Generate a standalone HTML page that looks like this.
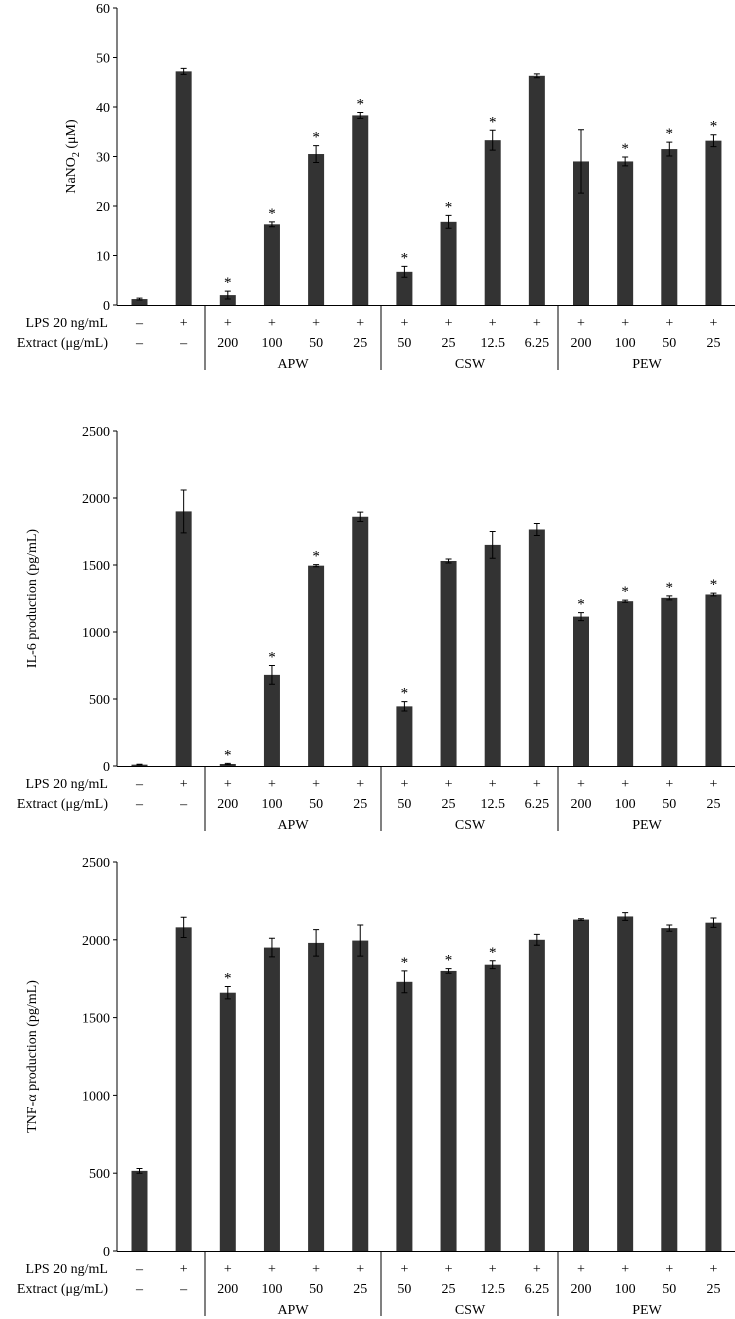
<!DOCTYPE html>
<html><head><meta charset="utf-8"><style>
body{margin:0;background:#fff}
svg{display:block;font-family:"Liberation Serif",serif}
</style></head><body>
<svg id="c" width="735" height="1319"></svg>
<script>
const lpsLabels=["–","+","+","+","+","+","+","+","+","+","+","+","+","+"];
const extractLabels=["–","–","200","100","50","25","50","25","12.5","6.25","200","100","50","25"];
const groups=["APW","CSW","PEW"];
const no2Values=[1.2,47.2,2,16.3,30.5,38.3,6.7,16.8,33.3,46.3,29,29,31.5,33.2];
const no2Errors=[0.2,0.6,0.8,0.5,1.7,0.6,1.1,1.3,2,0.4,6.4,0.9,1.4,1.2];
const no2Stars=[0,0,1,1,1,1,1,1,1,0,0,1,1,1];
const no2Ticks=[0,10,20,30,40,50,60];
const il6Values=[10,1900,15,680,1495,1860,445,1530,1650,1765,1115,1230,1255,1280];
const il6Errors=[3,160,5,70,8,35,35,15,100,45,30,8,15,10];
const il6Stars=[0,0,1,1,1,0,1,0,0,0,1,1,1,1];
const il6Ticks=[0,500,1000,1500,2000,2500];
const tnfValues=[515,2080,1660,1950,1980,1995,1730,1800,1840,2000,2130,2150,2075,2110];
const tnfErrors=[15,65,40,60,85,100,70,15,25,35,5,25,20,30];
const tnfStars=[0,0,1,0,0,0,1,1,1,0,0,0,0,0];
const tnfTicks=[0,500,1000,1500,2000,2500];

const svg=document.getElementById('c');
const NS='http://www.w3.org/2000/svg';
function mk(t,a,txt){const e=document.createElementNS(NS,t);for(const k in a)e.setAttribute(k,a[k]);if(txt!==undefined)e.textContent=txt;svg.appendChild(e);return e;}
const X0=117,bx=i=>139.5+i*44.15,BW=16,seps=[205,381,558];
function panel(name,title,vals,errs,stars,ticks,top,bottom,titleX,sub){
  const max=ticks[ticks.length-1];
  const y=v=>bottom-(v/max)*(bottom-top);
  let e=mk('line',{x1:X0,y1:top,x2:X0,y2:bottom,stroke:'#000','stroke-width':1});
  
  ticks.forEach(t=>{
    e=mk('line',{x1:X0-4,y1:y(t),x2:X0,y2:y(t),stroke:'#000'});
    
    e=mk('text',{x:X0-7,y:y(t)+5,'text-anchor':'end','font-size':14},String(t));
    
  });
  vals.forEach((v,i)=>{
    const cx=bx(i);
    e=mk('rect',{x:cx-BW/2,y:y(v),width:BW,height:bottom-y(v),fill:'#333'});
    
    const y1=y(v+errs[i]),y2=y(v-errs[i]);
    e=mk('path',{d:`M${cx},${y1}V${y2}M${cx-3},${y1}H${cx+3}M${cx-3},${y2}H${cx+3}`,stroke:'#000','stroke-width':1,fill:'none'});
    
    if(stars[i]){e=mk('text',{x:cx,y:y1-4,'text-anchor':'middle','font-size':15},'*');
      }
  });
  e=mk('line',{x1:X0,y1:bottom+0.5,x2:735,y2:bottom+0.5,stroke:'#000'});
  
  seps.forEach(s=>{e=mk('line',{x1:s,y1:bottom,x2:s,y2:bottom+65,stroke:'#000'});
    });
  e=mk('text',{x:108,y:bottom+22,'text-anchor':'end','font-size':14},'LPS 20 ng/mL');
  
  e=mk('text',{x:108,y:bottom+42,'text-anchor':'end','font-size':14},'Extract (μg/mL)');
  
  lpsLabels.forEach((l,i)=>{e=mk('text',{x:bx(i),y:bottom+22,'text-anchor':'middle','font-size':14},l);
    });
  extractLabels.forEach((l,i)=>{e=mk('text',{x:bx(i),y:bottom+42,'text-anchor':'middle','font-size':14},l);
    });
  const gx=[293,470,647];
  groups.forEach((g,i)=>{e=mk('text',{x:gx[i],y:bottom+63,'text-anchor':'middle','font-size':14},g);
    });
  const cy=(top+bottom)/2;
  e=mk('text',{x:titleX,y:cy,'text-anchor':'middle','font-size':14,transform:`rotate(-90 ${titleX} ${cy})`});
  
  if(sub){e.innerHTML='NaNO<tspan font-size="10" dy="4">2</tspan><tspan dy="-4"> (μM)</tspan>';}else e.textContent=title;
}
panel('nano2-chart','NaNO2 (μM)',no2Values,no2Errors,no2Stars,no2Ticks,8,305,75,true);
panel('il6-chart','IL-6 production (pg/mL)',il6Values,il6Errors,il6Stars,il6Ticks,431,766,36,false);
panel('tnf-chart','TNF-α production (pg/mL)',tnfValues,tnfErrors,tnfStars,tnfTicks,862,1251,36,false);
</script>
</body></html>
